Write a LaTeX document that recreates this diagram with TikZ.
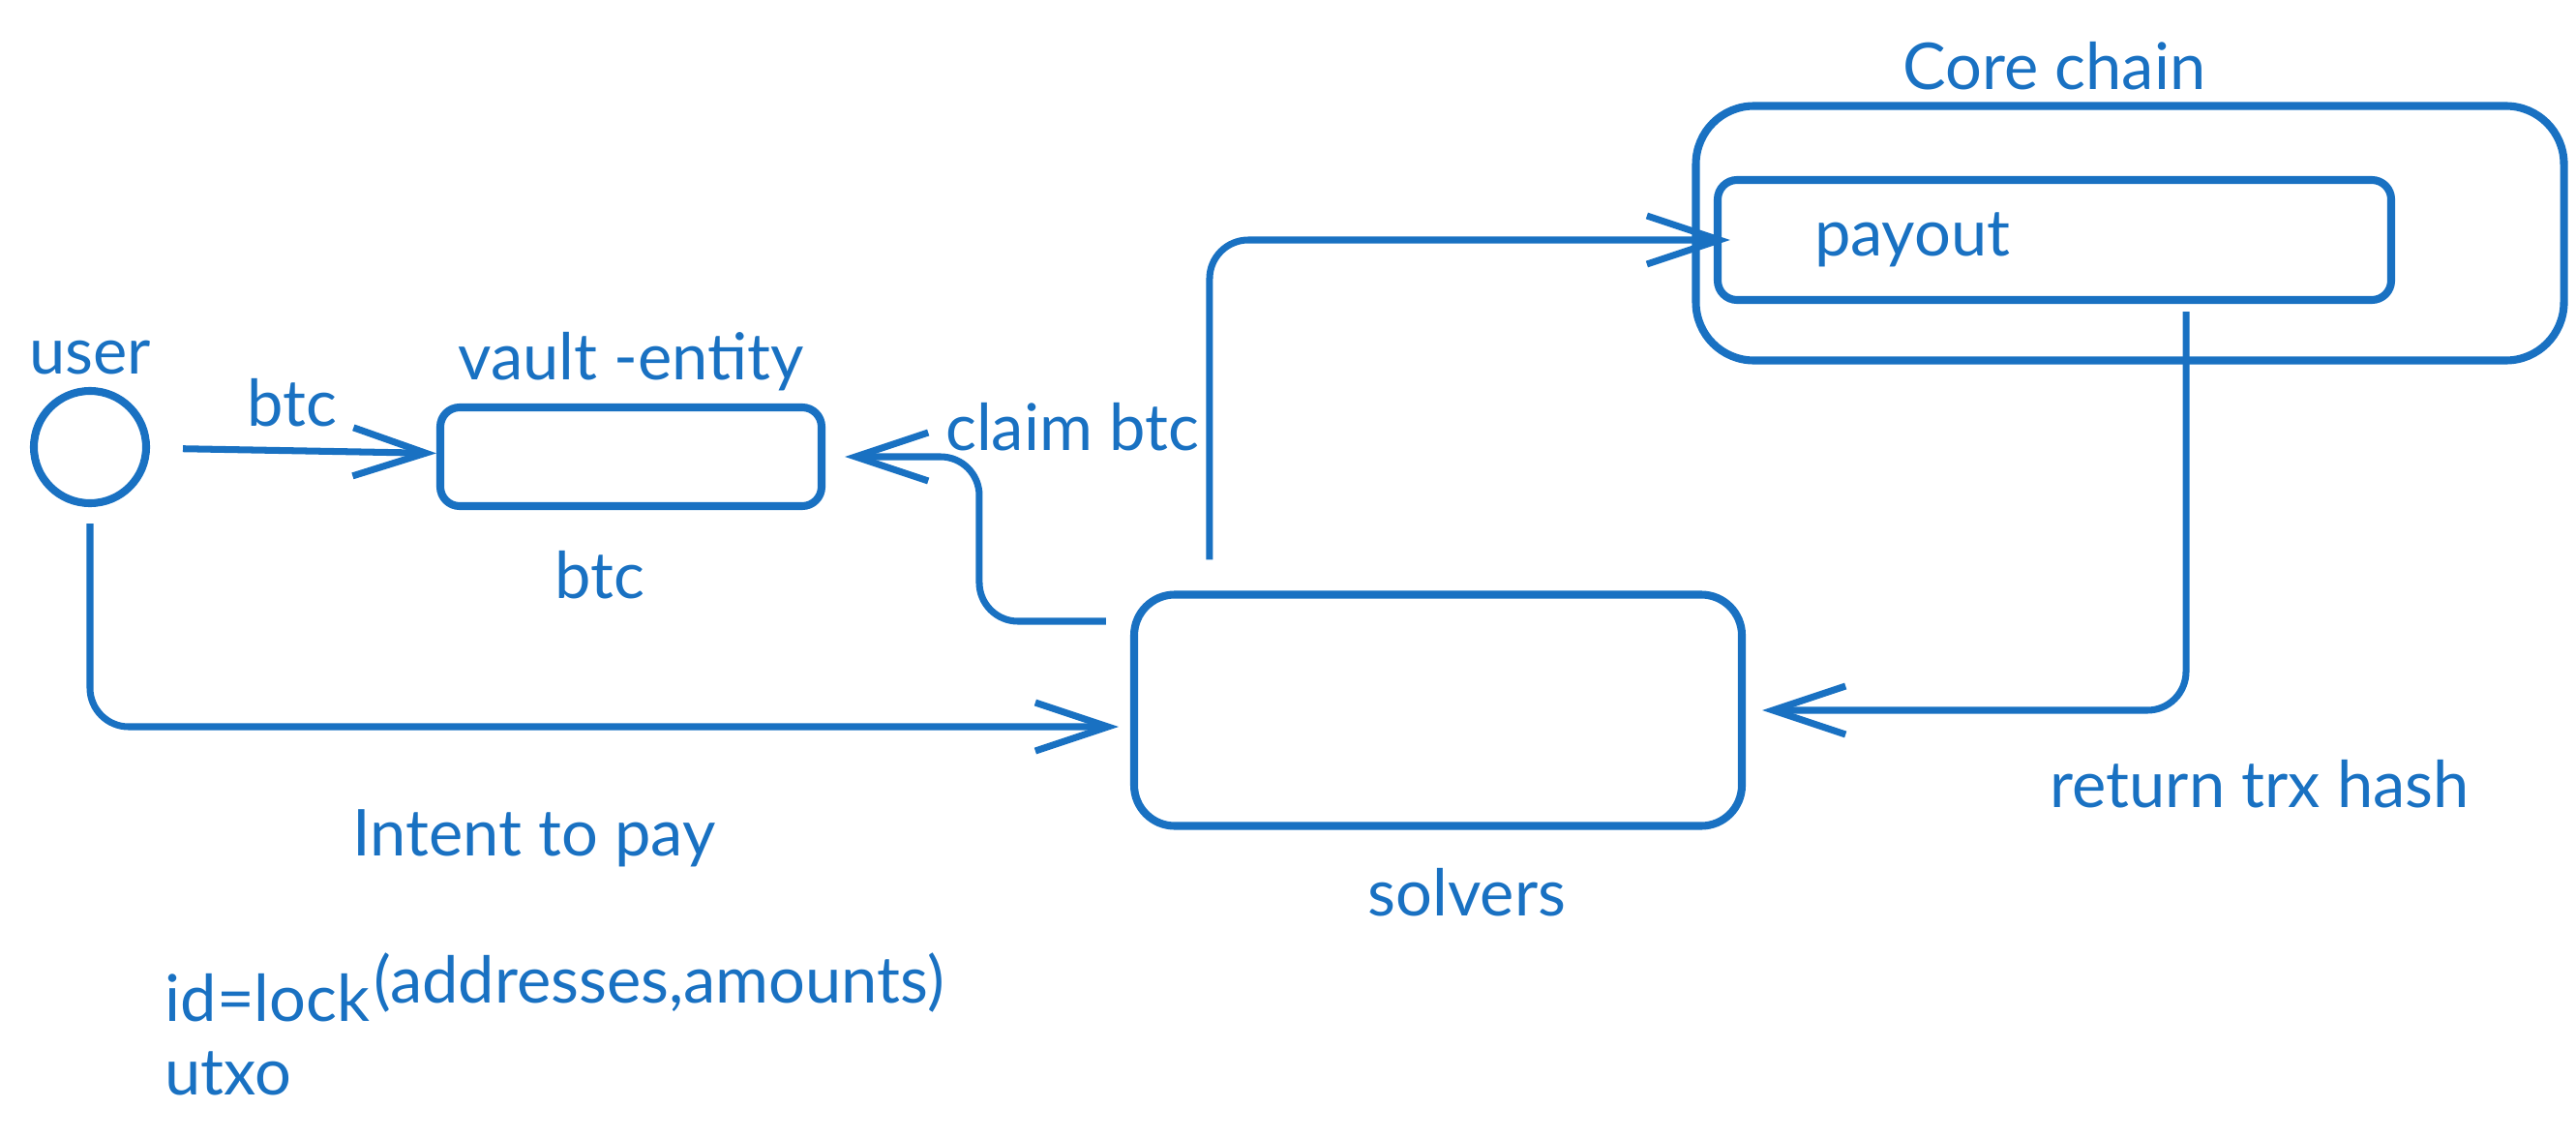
\documentclass[tikz,border=0pt]{standalone}
\usepackage{fontspec}
\setmainfont{Lato}
\usepackage{tikz}
\usetikzlibrary{arrows.meta, positioning}
\definecolor{sketchblue}{HTML}{1971C2}
\newcommand{\sketchfont}{\fontsize{19}{23}\selectfont}
\tikzstyle{box2} = [rectangle, rounded corners=0.25cm, draw=sketchblue, line width=2.3pt]
\tikzstyle{actor2} = [circle, draw=sketchblue, line width=2.3pt, minimum size=1.16cm, inner sep=0pt]
\tikzstyle{label2} = [text=sketchblue, font=\sketchfont, inner sep=0pt]
\tikzstyle{arrow2} = [draw=sketchblue, line width=2pt, rounded corners=0.4cm, -{Straight Barb[length=0.75cm, width=0.5cm, line width=2pt]}]

\begin{document}
\begin{tikzpicture}
            % Frame
            \useasboundingbox (0,0) rectangle (26.62,-11.75);

            % Nodes
            \node (user) [actor2] at (0.93,-4.62) {};
            \node (userlabel) [label2, above of=user, node distance=0.92cm] {user};
            \node (vault) [box2, right of=user, node distance=5.59cm, yshift=-0.1cm, minimum width=3.94cm, minimum height=1.02cm, rounded corners=0.2cm] {};
            \node (vaultlabel) [label2, above of=vault, node distance=0.98cm] {vault -entity};
            \node (vaultbtc) [label2, below of=vault, node distance=1.22cm, xshift=-0.32cm] {btc};

            \node (solvers) [box2, minimum width=6.28cm, minimum height=2.39cm, rounded corners=0.42cm] at (14.86,-7.34) {};
            \node (solverslabel) [label2, below of=solvers, node distance=1.88cm, xshift=0.3cm] {solvers};

            \node (core) [box2, minimum width=8.97cm, minimum height=2.63cm, rounded corners=0.6cm] at (22.01,-2.41) {};
            \node (corelabel) [label2, above of=core, node distance=1.73cm, xshift=-0.78cm] {Core chain};
            \node (payout) [box2, left of=core, node distance=0.78cm, yshift=-0.07cm, minimum width=6.96cm, minimum height=1.24cm, text width=4.96cm, inner xsep=1cm, align=left, text=sketchblue, font=\sketchfont, rounded corners=0.2cm] {payout};

            \node (btclabel) [label2] at (3.02,-4.16) {btc};
            \node (claimlabel) [label2] at (11.08,-4.41) {claim btc};
            \node (intentlabel) [label2] at (5.52,-8.66) {Intent to pay};
            \node (returnlabel) [label2] at (23.35,-8.10) {return trx hash};
            \node (idlabel) [label2, anchor=west] at (1.70,-10.31) {id=lock};
            \node (argslabel) [label2, anchor=west] at (3.86,-10.15) {(addresses,amounts)};
            \node (utxolabel) [label2, anchor=west] at (1.70,-11.09) {utxo};

            % Edges
            \draw [arrow2, shorten <=0.34cm] (user) -- (vault);
            \draw [arrow2, shorten <=0.17cm, shorten >=0.12cm] (user.south) |- ([yshift=-0.17cm]solvers.west);
            \draw [arrow2, shorten <=0.25cm, shorten >=0.2cm] ([yshift=0.92cm]solvers.west) -- ++(-1.56,0) |- (vault.east);
            \draw [arrow2, shorten <=0.32cm, shorten >=-0.17cm] ([xshift=0.82cm]solvers.north west) |- (payout.west);
            \draw [arrow2, shorten <=0.08cm, shorten >=0.17cm] ([xshift=1.36cm]payout.south) |- (solvers.east);
\end{tikzpicture}
\end{document}
